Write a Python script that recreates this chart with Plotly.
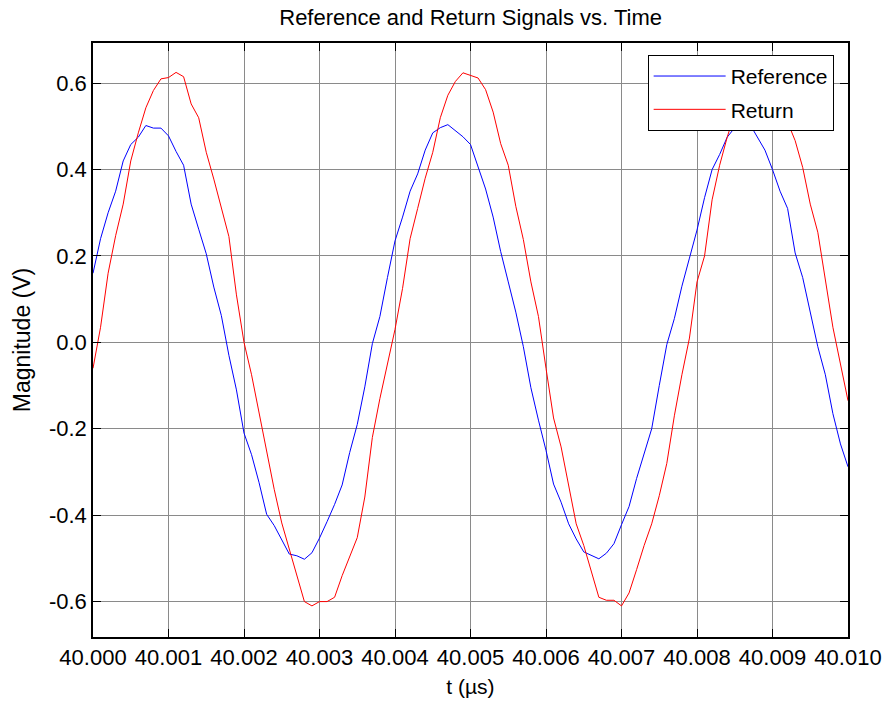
import plotly.graph_objects as go

# sample times (µs): 40.000 .. 40.010 in 0.0001 steps
time_us = [round(40.0 + i * 0.0001, 4) for i in range(101)]

reference_v = [
    0.16, 0.24, 0.30, 0.35, 0.42, 0.458, 0.475, 0.502, 0.496, 0.496,
    0.478, 0.442, 0.41, 0.32, 0.262, 0.205, 0.128, 0.062, -0.03, -0.11,
    -0.21, -0.26, -0.325, -0.398, -0.424, -0.458, -0.49, -0.494, -0.502, -0.487,
    -0.453, -0.415, -0.375, -0.33, -0.255, -0.19, -0.103, -0.003, 0.06, 0.15,
    0.235, 0.29, 0.35, 0.39, 0.445, 0.485, 0.497, 0.504, 0.49, 0.476,
    0.458, 0.405, 0.355, 0.29, 0.21, 0.14, 0.07, -0.01, -0.105, -0.18,
    -0.25, -0.328, -0.37, -0.42, -0.455, -0.485, -0.493, -0.501, -0.488, -0.466,
    -0.422, -0.38, -0.315, -0.26, -0.2, -0.1, -0.005, 0.055, 0.13, 0.195,
    0.26, 0.335, 0.40, 0.435, 0.475, 0.497, 0.505, 0.505, 0.475, 0.445,
    0.40, 0.35, 0.31, 0.207, 0.15, 0.07, -0.01, -0.075, -0.165, -0.235,
    -0.288,
]

return_v = [
    -0.06, 0.035, 0.16, 0.247, 0.32, 0.42, 0.485, 0.543, 0.583, 0.61,
    0.613, 0.625, 0.615, 0.552, 0.52, 0.44, 0.378, 0.31, 0.245, 0.11,
    0.0, -0.075, -0.165, -0.25, -0.34, -0.418, -0.48, -0.542, -0.6, -0.61,
    -0.6, -0.6, -0.59, -0.54, -0.495, -0.452, -0.358, -0.22, -0.13, -0.05,
    0.03, 0.125, 0.24, 0.31, 0.38, 0.44, 0.52, 0.572, 0.604, 0.624,
    0.618, 0.612, 0.585, 0.533, 0.46, 0.41, 0.315, 0.238, 0.14, 0.06,
    -0.06, -0.175, -0.242, -0.33, -0.42, -0.47, -0.53, -0.59, -0.597, -0.597,
    -0.61, -0.58, -0.526, -0.47, -0.42, -0.355, -0.28, -0.17, -0.075, 0.01,
    0.14, 0.2, 0.33, 0.41, 0.475, 0.53, 0.575, 0.605, 0.62, 0.622,
    0.61, 0.58, 0.51, 0.467, 0.405, 0.32, 0.255, 0.15, 0.035, -0.05,
    -0.135,
]

x_tick_vals = [40.000, 40.001, 40.002, 40.003, 40.004, 40.005,
               40.006, 40.007, 40.008, 40.009, 40.010]
x_tick_text = ["40.000", "40.001", "40.002", "40.003", "40.004", "40.005",
               "40.006", "40.007", "40.008", "40.009", "40.010"]
y_tick_vals = [-0.6, -0.4, -0.2, 0.0, 0.2, 0.4, 0.6]
y_tick_text = ["-0.6", "-0.4", "-0.2", "0.0", "0.2", "0.4", "0.6"]

FONT = "Arial, 'Liberation Sans', sans-serif"

fig = go.Figure()
fig.add_trace(go.Scatter(x=time_us, y=reference_v, mode="lines", name="Reference",
                         legendgroup="a", line=dict(color="#0000ff", width=1)))
fig.add_trace(go.Scatter(x=time_us, y=return_v, mode="lines", name="Return",
                         legendgroup="b", line=dict(color="#ff0000", width=1)))

axis_common = dict(
    showline=True, linecolor="black", linewidth=1.5, mirror="ticks",
    ticks="inside", ticklen=8, tickcolor="black", tickwidth=1,
    showgrid=True, gridcolor="#8a8a8a", gridwidth=1, zeroline=False,
    tickfont=dict(family=FONT, size=22, color="black"),
    automargin=False,
)

fig.update_layout(
    width=888, height=705,
    margin=dict(l=93, r=40, t=43, b=68, autoexpand=False),
    paper_bgcolor="white", plot_bgcolor="white",
    title=dict(text="Reference and Return Signals vs. Time", x=0.53, xanchor="center",
               y=0.975, yanchor="middle",
               font=dict(family=FONT, size=22, color="black")),
    xaxis=dict(range=[40.0, 40.010], tickvals=x_tick_vals, ticktext=x_tick_text,
               title=dict(text="t (\u00b5s)", font=dict(family=FONT, size=21, color="black"), standoff=10),
               **axis_common),
    yaxis=dict(range=[-0.682, 0.693], tickvals=y_tick_vals, ticktext=y_tick_text,
               title=dict(text="Magnitude (V)", font=dict(family=FONT, size=23, color="black"), standoff=12),
               **axis_common),
    legend=dict(x=0.981, y=0.980, xanchor="right", yanchor="top",
                bgcolor="white", bordercolor="black", borderwidth=1,
                font=dict(family=FONT, size=21, color="black"),
                itemwidth=72, tracegroupgap=3, traceorder="grouped"),
    showlegend=True,
)

fig.write_html("out.html")
